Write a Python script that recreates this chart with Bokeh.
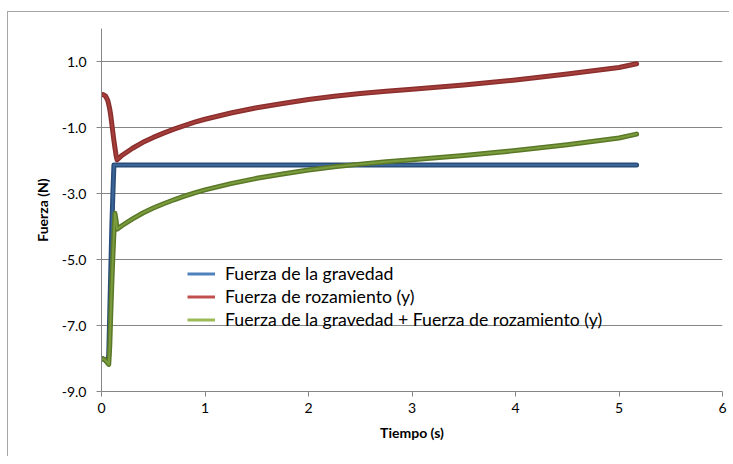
from bokeh.plotting import figure
from bokeh.models import (Range1d, FixedTicker, NumeralTickFormatter, Legend,
                          LegendItem)
from bokeh.embed import file_html
from bokeh.resources import INLINE

# ---- data ----
tiempo = [0.00, 0.02, 0.04, 0.06, 0.07, 0.08, 0.09, 0.10, 0.11, 0.12, 0.13, 0.14,
          0.15, 0.20, 0.30, 0.40, 0.50, 0.60, 0.70, 0.80, 0.90, 1.00, 1.25, 1.50,
          1.75, 2.00, 2.25, 2.50, 2.75, 3.00, 3.50, 4.00, 4.50, 5.00, 5.17]

gravedad = [-8.00, -8.02, -8.06, -8.12, -7.90, -6.60, -5.30, -4.00, -3.00, -2.14,
            -2.14, -2.14, -2.14, -2.14, -2.14, -2.14, -2.14, -2.14, -2.14, -2.14,
            -2.14, -2.14, -2.14, -2.14, -2.14, -2.14, -2.14, -2.14, -2.14, -2.14,
            -2.14, -2.14, -2.14, -2.14, -2.14]

rozamiento = [0.00, -0.01, -0.05, -0.18, -0.30, -0.45, -0.65, -0.90, -1.15, -1.40,
              -1.62, -1.83, -1.98, -1.84, -1.63, -1.45, -1.30, -1.17, -1.05, -0.94,
              -0.84, -0.75, -0.56, -0.40, -0.27, -0.15, -0.05, 0.03, 0.10, 0.16,
              0.29, 0.44, 0.62, 0.82, 0.93]

suma = [-8.00, -8.02, -8.06, -8.14, -8.18, -7.60, -6.60, -5.70, -4.90, -4.20,
        -3.60, -3.80, -4.08, -3.97, -3.77, -3.59, -3.44, -3.31, -3.19, -3.08,
        -2.98, -2.89, -2.70, -2.54, -2.41, -2.29, -2.19, -2.11, -2.04, -1.98,
        -1.85, -1.70, -1.52, -1.32, -1.20]

y_ticks = [-9, -7, -5, -3, -1, 1]
x_ticks = [0, 1, 2, 3, 4, 5, 6]

labels = ["Fuerza de la gravedad",
          "Fuerza de rozamiento (y)",
          "Fuerza de la gravedad + Fuerza de rozamiento (y)"]

FONT = "Lato"
GRID = "#868686"

p = figure(width=722, height=445, output_backend="svg", toolbar_location=None,
           x_range=Range1d(0, 6), y_range=Range1d(-9, 2),
           min_border_left=93, min_border_right=8, min_border_top=16,
           min_border_bottom=66,
           styles={"margin-left": "7px", "margin-top": "11px",
                   "border-left": "1px solid #a6a6a6",
                   "border-top": "1px solid #a6a6a6"})
p.outline_line_color = None
p.background_fill_color = "white"
p.border_fill_color = "white"

# axes
p.xaxis.ticker = FixedTicker(ticks=x_ticks)
p.yaxis.ticker = FixedTicker(ticks=y_ticks)
p.yaxis.formatter = NumeralTickFormatter(format="0.0")
for ax in (p.xaxis[0], p.yaxis[0]):
    ax.axis_line_color = GRID
    ax.major_tick_line_color = GRID
    ax.major_tick_out = 5
    ax.major_tick_in = 0
    ax.minor_tick_line_color = None
    ax.major_label_text_font = FONT
    ax.major_label_text_font_size = "14px"
    ax.major_label_text_color = "#000000"
    ax.axis_label_text_font = FONT
    ax.axis_label_text_font_size = "14px"
    ax.axis_label_text_font_style = "bold"
    ax.axis_label_text_color = "#000000"
p.xaxis.axis_label = "Tiempo (s)"
p.yaxis.axis_label = "Fuerza (N)"
p.yaxis.major_label_standoff = 10
p.xaxis.major_label_standoff = 6
p.yaxis.axis_label_standoff = 8
p.xaxis.axis_label_standoff = 8

p.xgrid.grid_line_color = None
p.ygrid.ticker = FixedTicker(ticks=y_ticks)
p.ygrid.grid_line_color = GRID
p.ygrid.grid_line_width = 1

# series lines (dark edge + lighter core)
styles = [
    (gravedad, "#294c78", "#3b6699"),
    (rozamiento, "#8a2f2d", "#a63f3b"),
    (suma, "#5a7828", "#7b9c3d"),
]
for ys, dark, light in styles:
    p.line(tiempo, ys, line_color=dark, line_width=5, line_join="round",
           line_cap="round")
    p.line(tiempo, ys, line_color=light, line_width=2, line_join="round",
           line_cap="round")

# legend entries (Excel legend colours); renderers hold no visible data
nan = float("nan")
leg_colors = ["#4f81bd", "#c0504d", "#9bbb59"]
items = []
for lab, c in zip(labels, leg_colors):
    r = p.line([nan, nan], [nan, nan], line_color=c, line_width=3)
    items.append(LegendItem(label=lab, renderers=[r]))

legend = Legend(items=items, location=(86, 60), padding=0, margin=0,
                spacing=0, glyph_width=28, glyph_height=23, label_height=23,
                label_standoff=10, label_text_font=FONT,
                label_text_font_size="17.7px", label_text_color="#000000",
                border_line_color=None, background_fill_alpha=0)
p.add_layout(legend, "center")

open("out.html", "w").write(file_html(p, INLINE))
